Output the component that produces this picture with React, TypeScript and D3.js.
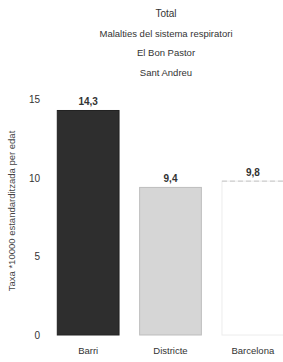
import React from "react";
import * as d3 from "d3";

const categories = ["Barri", "Districte", "Barcelona"];
const values = [14.3, 9.4, 9.8];
const titleLines = ["Total", "Malalties del sistema respiratori", "El Bon Pastor", "Sant Andreu"];
const yTicks = [0, 5, 10, 15];
const yLabel = "Taxa *10000 estandarditzada per edat";

const width = 283;
const height = 362;

const App = () => {
  // escales
  const x = d3.scaleBand().domain(categories).range([47, 294]).paddingInner(0.25).paddingOuter(0.125);
  const y = d3.scaleLinear().domain([0, 15]).range([335, 99.5]);

  const fills = ["#2e2e2e", "#d6d6d6", "#ffffff"];
  const strokes = ["#222", "#bdbdbd", "#ececec"];
  const fmt = (v) => v.toFixed(1).replace(".", ",");

  return (
    <svg
      width={width}
      height={height}
      style={{ position: "absolute", left: 0, top: 0, background: "#fff" }}
      fontFamily="Liberation Sans, Arial, sans-serif"
    >
      {titleLines.map((t, i) => (
        <text key={t} x={166} y={17 + i * 19.5} textAnchor="middle" fontSize={i === 0 ? 10 : 9.5} fill="#333">
          {t}
        </text>
      ))}

      {yTicks.map((t) => (
        <text key={t} x={40} y={y(t) + 3.5} textAnchor="end" fontSize={10} fill="#333">
          {t}
        </text>
      ))}

      <text
        transform={`translate(15,${211}) rotate(-90)`}
        textAnchor="middle"
        fontSize={9.5}
        fill="#444"
      >
        {yLabel}
      </text>

      {categories.map((c, i) => (
        <g key={c}>
          <rect
            x={x(c)}
            y={y(values[i])}
            width={x.bandwidth()}
            height={y(0) - y(values[i])}
            fill={fills[i]}
            stroke={strokes[i]}
            strokeWidth={1}
          />
          {i === 2 && (
            <line
              x1={x(c)}
              x2={x(c) + x.bandwidth()}
              y1={y(values[i])}
              y2={y(values[i])}
              stroke="#c4c4c4"
              strokeWidth={1}
              strokeDasharray="5,3"
            />
          )}
          <text
            x={x(c) + x.bandwidth() / 2}
            y={y(values[i]) - 5}
            textAnchor="middle"
            fontSize={10}
            fontWeight="bold"
            fill="#333"
          >
            {fmt(values[i])}
          </text>
          <text
            x={x(c) + x.bandwidth() / 2}
            y={354}
            textAnchor="middle"
            fontSize={9.5}
            fill="#333"
          >
            {c}
          </text>
        </g>
      ))}
    </svg>
  );
};

export default App;
